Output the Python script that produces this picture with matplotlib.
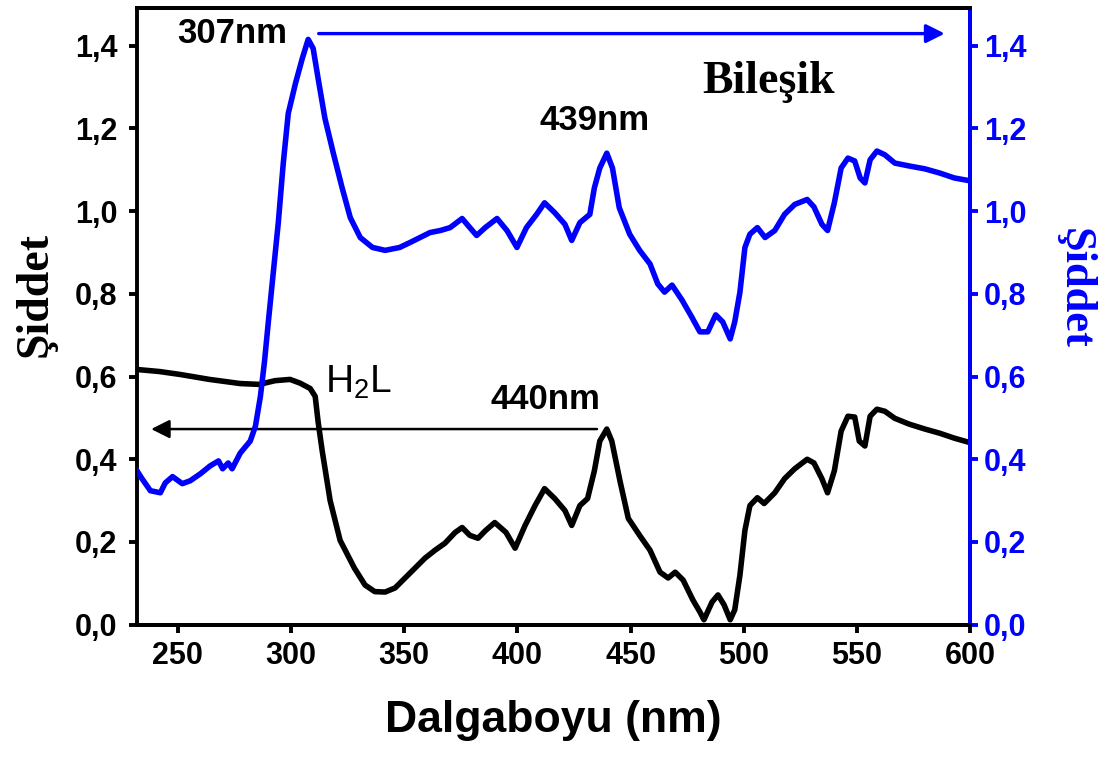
import matplotlib
matplotlib.use("Agg")
import matplotlib.pyplot as plt

# H2L (black, left axis)
wl_h2l = [232, 242, 251, 264, 277.6, 286, 293, 299.6, 304, 308.5, 310.7, 312, 313.8, 317.3,
          321.7, 328, 332.7, 337, 341.6, 346, 350.4, 354.8, 359.2, 363.6, 368, 372.5, 375.6,
          379, 382.6, 386, 390, 395, 399, 403.4, 407.8, 412, 416.5, 421, 424, 427.6, 431,
          434, 436.4, 439.5, 441.7, 445.3, 449, 454, 458.6, 463, 466.6, 469.7, 473.2, 477.5,
          480.6, 482.4, 486, 488.6, 491.3, 494, 496, 498.3, 500.5, 502.7, 506, 509, 513.7,
          518, 522.5, 528, 531, 534.5, 537, 540, 543, 546, 549, 551, 553.5, 555.8, 558.8,
          562.3, 566.7, 573, 580, 586.5, 593, 600]
int_h2l = [0.617, 0.612, 0.605, 0.593, 0.583, 0.581, 0.590, 0.593, 0.584, 0.571, 0.552, 0.490,
           0.420, 0.300, 0.204, 0.137, 0.096, 0.080, 0.079, 0.089, 0.113, 0.137, 0.161, 0.180,
           0.197, 0.223, 0.235, 0.216, 0.209, 0.228, 0.247, 0.223, 0.185, 0.240, 0.288, 0.329,
           0.305, 0.276, 0.240, 0.288, 0.305, 0.372, 0.444, 0.473, 0.444, 0.348, 0.257, 0.216,
           0.180, 0.127, 0.113, 0.127, 0.108, 0.060, 0.031, 0.012, 0.055, 0.072, 0.048, 0.012,
           0.036, 0.120, 0.228, 0.288, 0.307, 0.293, 0.319, 0.353, 0.377, 0.400, 0.391, 0.353,
           0.319, 0.372, 0.468, 0.504, 0.502, 0.444, 0.432, 0.504, 0.521, 0.516, 0.499, 0.485,
           0.473, 0.463, 0.451, 0.440]

# Bilesik (blue, right axis)
wl_comp = [232, 234.2, 237.9, 242.3, 244.5, 247.7, 252, 255.5, 260, 264.3, 268, 269.8, 272.3,
           274, 277.6, 282, 284.3, 286.5, 288.3, 290, 292.2, 294.4, 296.6, 298.8, 302, 305,
           307.6, 309.8, 312, 315, 318.7, 322.6, 326.2, 330.6, 336, 341.6, 348, 352.6, 357,
           361.4, 366, 370.3, 375.6, 379, 382, 385.8, 391, 395.4, 399.8, 404, 408.5, 412,
           416.5, 421, 424, 427.6, 432, 434, 436.4, 439.5, 442, 445, 449.6, 454, 458.6, 462,
           465, 468.3, 472.7, 477, 480.6, 484.1, 487.6, 490.7, 494, 496, 498.3, 500.5, 502.7,
           506, 509.4, 513.7, 518, 522.5, 528, 531, 534.5, 537, 540, 543, 546, 549, 551.4,
           553.5, 555.8, 558.8, 562.3, 566.7, 573, 580, 586.5, 593, 600]
int_comp = [0.372, 0.353, 0.324, 0.319, 0.343, 0.358, 0.341, 0.348, 0.365, 0.384, 0.396, 0.377,
            0.391, 0.377, 0.415, 0.444, 0.480, 0.552, 0.636, 0.732, 0.852, 0.972, 1.116, 1.236,
            1.309, 1.369, 1.415, 1.393, 1.320, 1.224, 1.140, 1.056, 0.984, 0.936, 0.912, 0.905,
            0.912, 0.924, 0.936, 0.948, 0.953, 0.960, 0.982, 0.960, 0.941, 0.960, 0.982, 0.953,
            0.912, 0.960, 0.992, 1.020, 0.996, 0.968, 0.929, 0.972, 0.992, 1.056, 1.104, 1.140,
            1.104, 1.008, 0.944, 0.905, 0.872, 0.824, 0.804, 0.821, 0.785, 0.744, 0.708, 0.708,
            0.749, 0.732, 0.691, 0.732, 0.804, 0.912, 0.944, 0.960, 0.936, 0.953, 0.992, 1.016,
            1.028, 1.010, 0.968, 0.953, 1.020, 1.104, 1.128, 1.121, 1.080, 1.068, 1.124, 1.145,
            1.136, 1.116, 1.109, 1.102, 1.092, 1.080, 1.073]

xticks = [250, 300, 350, 400, 450, 500, 550, 600]
yticks = [0.0, 0.2, 0.4, 0.6, 0.8, 1.0, 1.2, 1.4]
ytick_labels = ["0,0", "0,2", "0,4", "0,6", "0,8", "1,0", "1,2", "1,4"]

plt.rcParams['font.family'] = ['Liberation Sans', 'DejaVu Sans']
plt.rcParams['mathtext.default'] = 'regular'

fig = plt.figure(figsize=(11.05, 7.6), dpi=100)
ax = fig.add_axes([0.124, 0.178, 0.754, 0.811])
ax2 = ax.twinx()

ax.plot(wl_h2l, int_h2l, color='black', lw=4, zorder=3, solid_joinstyle='round')
ax2.plot(wl_comp, int_comp, color='blue', lw=4, zorder=3, solid_joinstyle='round')

for a in (ax, ax2):
    a.set_xlim(232, 600)
    a.set_ylim(0, 1.49)
    for s in a.spines.values():
        s.set_linewidth(2.8)

ax.set_xticks(xticks)
ax.set_xticklabels([str(t) for t in xticks], fontsize=22, fontweight='bold')
ax.set_yticks(yticks)
ax.set_yticklabels(ytick_labels, fontsize=22, fontweight='bold')
ax.tick_params(axis='both', direction='out', length=6, width=2.8, pad=6)
ax.tick_params(axis='y', right=False, pad=8)

ax2.set_yticks(yticks)
ax2.set_yticklabels(ytick_labels, fontsize=22, fontweight='bold', color='blue')
ax2.tick_params(axis='y', direction='out', length=6, width=2.8, colors='blue', pad=4)
ax2.spines['right'].set_color('blue')
ax2.spines['left'].set_visible(False)

ax.set_xlabel("Dalgaboyu (nm)", fontsize=32, fontweight='bold')
ax.xaxis.set_label_coords(0.5, -0.122)
ax.set_ylabel("Şiddet", fontsize=33, fontweight='bold', family='Liberation Serif')
ax.yaxis.set_label_coords(-0.096, 0.535)
ax2.set_ylabel("Şiddet", fontsize=32, fontweight='bold', family='Liberation Serif',
               color='blue', rotation=270)
ax2.yaxis.set_label_coords(1.15, 0.545)

# arrows and peak labels
ax2.annotate('', xy=(590, 1.429), xytext=(311, 1.429),
             arrowprops=dict(arrowstyle='-|>', color='blue', lw=2.4, mutation_scale=28))
ax.annotate('', xy=(237, 0.473), xytext=(436.4, 0.473),
            arrowprops=dict(arrowstyle='-|>', color='black', lw=1.8, mutation_scale=28))

ax2.text(274, 1.429, "307nm", fontsize=25, fontweight='bold', ha='center', va='center')
ax2.text(434.2, 1.22, "439nm", fontsize=25, fontweight='bold', ha='center', va='center')
ax2.text(412.2, 0.545, "440nm", fontsize=25, fontweight='bold', ha='center', va='center')
ax2.text(330, 0.585, "H$_2$L", fontsize=28, ha='center', va='center')
ax2.text(511, 1.313, "Bileşik", fontsize=33, fontweight='bold', family='Liberation Serif',
         ha='center', va='center')

fig.savefig("out.png", dpi=100)
